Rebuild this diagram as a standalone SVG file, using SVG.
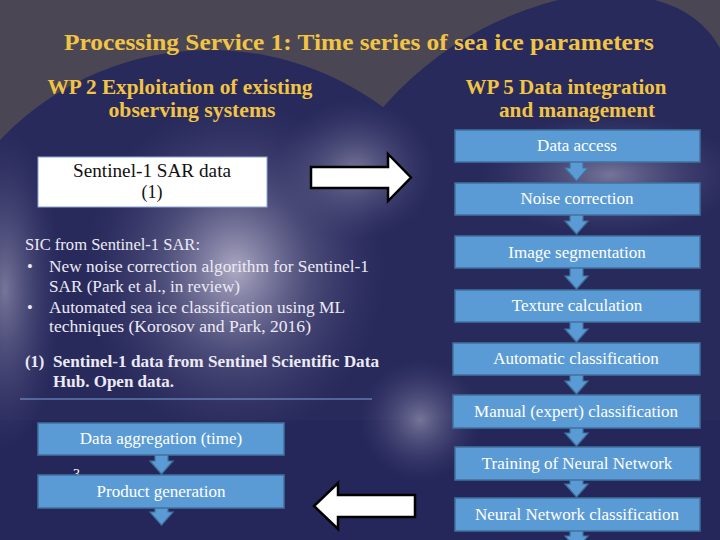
<svg xmlns="http://www.w3.org/2000/svg" width="720" height="540" viewBox="0 0 720 540">
<style>
.title{font-family:"Liberation Serif",serif;font-weight:bold;fill:#f2c443;}
.wp{font-family:"Liberation Serif",serif;font-weight:bold;fill:#f2c443;font-size:21px;}
.body{font-family:"Liberation Serif",serif;fill:#eceaf4;font-size:16.5px;}
.bold{font-weight:bold;}
.box{fill:#5b9bd5;stroke:#41719c;stroke-width:1.5;}
.btxt{font-family:"Liberation Serif",serif;fill:#ffffff;font-size:17px;text-anchor:middle;}
.darr{fill:#5b9bd5;stroke:#41719c;stroke-width:1.2;}
.warr{fill:#ffffff;stroke:#000000;stroke-width:2.5;stroke-linejoin:miter;}
</style>
<defs>
<radialGradient id="glow">
<stop offset="0" stop-color="#c4c0d6" stop-opacity="0.85"/>
<stop offset="0.5" stop-color="#8e8aae" stop-opacity="0.35"/>
<stop offset="1" stop-color="#5a5888" stop-opacity="0"/>
</radialGradient>
<radialGradient id="glowSoft">
<stop offset="0" stop-color="#a9a6c2" stop-opacity="0.6"/>
<stop offset="1" stop-color="#5a5888" stop-opacity="0"/>
</radialGradient>
</defs>
<g id="background">
<rect x="0" y="0" width="720" height="540" fill="#4b4654"/>
<circle cx="210" cy="340" r="290" fill="#282a5c"/>
<circle cx="640" cy="330" r="340" fill="#282a5c"/>
<rect x="0" y="420" width="720" height="120" fill="#25275a"/>
<path d="M655,0 Q700,12 720,48 L720,0 Z" fill="#4b4654"/>
<ellipse cx="235" cy="270" rx="150" ry="170" fill="url(#glow)"/>
<ellipse cx="355" cy="170" rx="80" ry="70" fill="url(#glowSoft)"/>
<ellipse cx="610" cy="175" rx="130" ry="60" fill="url(#glowSoft)"/>
<ellipse cx="420" cy="420" rx="60" ry="60" fill="url(#glowSoft)"/>
<ellipse cx="5" cy="290" rx="55" ry="160" fill="url(#glowSoft)"/>
</g>
<g id="titles">
<text class="title" x="359" y="50" font-size="23" text-anchor="middle" textLength="590" lengthAdjust="spacingAndGlyphs">Processing Service 1: Time series of sea ice parameters</text>
<text class="wp" x="180" y="94" text-anchor="middle" textLength="265" lengthAdjust="spacingAndGlyphs">WP 2 Exploitation of existing</text>
<text class="wp" x="192" y="117" text-anchor="middle" textLength="167" lengthAdjust="spacingAndGlyphs">observing systems</text>
<text class="wp" x="566" y="94" text-anchor="middle" textLength="201" lengthAdjust="spacingAndGlyphs">WP 5 Data integration</text>
<text class="wp" x="577" y="117" text-anchor="middle" textLength="156" lengthAdjust="spacingAndGlyphs">and management</text>
</g>
<g id="sentinel-box">
<rect x="38" y="157" width="229" height="50" fill="#ffffff" stroke="#8aa6d4" stroke-width="1"/>
<text x="152" y="177" font-family="Liberation Serif, serif" font-size="18" fill="#111111" text-anchor="middle" textLength="158" lengthAdjust="spacingAndGlyphs">Sentinel-1 SAR data</text>
<text x="152" y="198" font-family="Liberation Serif, serif" font-size="18" fill="#111111" text-anchor="middle">(1)</text>
</g>
<g id="left-text">
<text class="body" x="25" y="250" textLength="175" lengthAdjust="spacingAndGlyphs">SIC from Sentinel-1 SAR:</text>
<text class="body" x="27" y="272">•</text>
<text class="body" x="49" y="272" textLength="320" lengthAdjust="spacingAndGlyphs">New noise correction algorithm for Sentinel-1</text>
<text class="body" x="49" y="292" textLength="191" lengthAdjust="spacingAndGlyphs">SAR (Park et al., in review)</text>
<text class="body" x="27" y="313">•</text>
<text class="body" x="49" y="313" textLength="296" lengthAdjust="spacingAndGlyphs">Automated sea ice classification using ML</text>
<text class="body" x="49" y="332" textLength="262" lengthAdjust="spacingAndGlyphs">techniques  (Korosov and Park, 2016)</text>
<text class="body bold" x="25" y="367">(1)</text>
<text class="body bold" x="53" y="367" textLength="326" lengthAdjust="spacingAndGlyphs">Sentinel-1 data from Sentinel Scientific Data</text>
<text class="body bold" x="53" y="387" textLength="121" lengthAdjust="spacingAndGlyphs">Hub. Open data.</text>
<line x1="20" y1="399" x2="372" y2="399" stroke="#7fa2d6" stroke-width="1"/>
</g>
<g id="connectors">
<polygon class="warr" points="311,167 388,167 388,154 411,177.5 388,201 388,188 311,188"/>
<polygon class="warr" points="415,495 338,495 338,483 314,506 338,529 338,517 415,517"/>
<polygon class="darr" points="570,160 583,160 583,168 588,168 576.5,181 565,168 570,168"/>
<polygon class="darr" points="570,213 583,213 583,221 588,221 576.5,234 565,221 570,221"/>
<polygon class="darr" points="570,266 583,266 583,276 588,276 576.5,289 565,276 570,276"/>
<polygon class="darr" points="570,320 583,320 583,329 588,329 576.5,342 565,329 570,329"/>
<polygon class="darr" points="570,373 583,373 583,381 588,381 576.5,394 565,381 570,381"/>
<polygon class="darr" points="570,426 583,426 583,433 588,433 576.5,446 565,433 570,433"/>
<polygon class="darr" points="570,479 583,479 583,484 588,484 576.5,497 565,484 570,484"/>
<polygon class="darr" points="570,529 583,529 583,536 588,536 576.5,549 565,536 570,536"/>
<polygon class="darr" points="155,453 168,453 168,461 173,461 161.5,474 150,461 155,461"/>
<polygon class="darr" points="155,506 168,506 168,512 173,512 161.5,525 150,512 155,512"/>
</g>
<text x="73" y="479" font-family="Liberation Serif, serif" font-size="14" fill="#ffffff">3</text>
<g id="data-access"><rect class="box" x="455" y="130" width="245" height="32"/><text class="btxt" x="577" y="151">Data access</text></g>
<g id="noise-correction"><rect class="box" x="455" y="183" width="245" height="32"/><text class="btxt" x="577" y="204">Noise correction</text></g>
<g id="image-segmentation"><rect class="box" x="455" y="236" width="245" height="32"/><text class="btxt" x="577" y="258">Image segmentation</text></g>
<g id="texture-calculation"><rect class="box" x="455" y="290" width="245" height="32"/><text class="btxt" x="577" y="311">Texture calculation</text></g>
<g id="automatic-classification"><rect class="box" x="453" y="343" width="247" height="32"/><text class="btxt" x="576" y="364">Automatic classification</text></g>
<g id="manual-classification"><rect class="box" x="453" y="395" width="247" height="33"/><text class="btxt" x="576" y="417">Manual (expert) classification</text></g>
<g id="training-nn"><rect class="box" x="455" y="447" width="245" height="33"/><text class="btxt" x="577" y="469">Training of Neural Network</text></g>
<g id="nn-classification"><rect class="box" x="455" y="498" width="245" height="33"/><text class="btxt" x="577" y="520">Neural Network classification</text></g>
<g id="data-aggregation"><rect class="box" x="38" y="423" width="246" height="32"/><text class="btxt" x="161" y="444">Data aggregation (time)</text></g>
<g id="product-generation"><rect class="box" x="38" y="475" width="246" height="33"/><text class="btxt" x="161" y="497">Product generation</text></g>
</svg>
